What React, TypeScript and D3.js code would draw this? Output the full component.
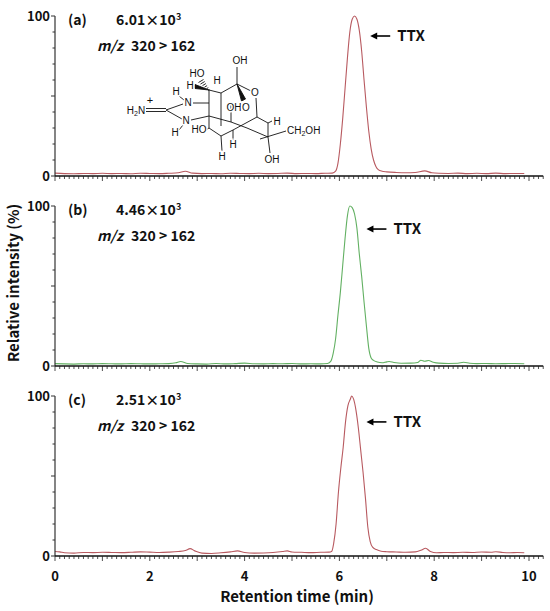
import React from 'react';
import * as d3 from 'd3';

// retention time (min), relative intensity (%)
const timesA = [0, 0.2, 0.4, 0.6, 0.8, 1.0, 1.2, 1.4, 1.6, 1.8, 2.0, 2.2, 2.4, 2.6, 2.75, 2.9, 3.1, 3.3, 3.5, 3.7, 3.9, 4.1, 4.3, 4.5, 4.7, 4.9, 5.1, 5.3, 5.5, 5.7, 5.85, 5.92, 5.97, 6.02, 6.07, 6.12, 6.17, 6.22, 6.27, 6.32, 6.37, 6.42, 6.47, 6.52, 6.57, 6.62, 6.67, 6.72, 6.77, 6.82, 6.9, 7.0, 7.2, 7.4, 7.6, 7.8, 7.95, 8.1, 8.3, 8.5, 8.7, 8.9, 9.1, 9.3, 9.5, 9.7, 9.9];
const valuesA = [1.8, 1.5, 1.4, 1.6, 1.5, 1.7, 1.5, 1.6, 1.4, 1.7, 1.6, 1.5, 1.7, 2.0, 3.0, 1.8, 1.5, 1.6, 1.4, 1.7, 1.6, 1.5, 1.7, 1.5, 1.6, 1.8, 1.5, 1.6, 1.5, 1.7, 1.8, 3, 8, 20, 36, 55, 74, 90, 98, 100, 98, 91, 78, 60, 43, 28, 17, 10, 6, 4, 3, 2.6, 2.2, 2.0, 2.2, 3.2, 2.0, 1.7, 1.6, 1.8, 1.5, 1.7, 1.5, 1.8, 1.5, 1.6, 1.6];

const timesB = [0, 0.2, 0.4, 0.6, 0.8, 1.0, 1.2, 1.4, 1.6, 1.8, 2.0, 2.2, 2.4, 2.55, 2.65, 2.8, 3.0, 3.2, 3.4, 3.6, 3.8, 4.0, 4.2, 4.4, 4.6, 4.8, 5.0, 5.2, 5.4, 5.6, 5.75, 5.82, 5.87, 5.92, 5.97, 6.02, 6.07, 6.12, 6.17, 6.22, 6.27, 6.32, 6.37, 6.42, 6.47, 6.52, 6.57, 6.62, 6.67, 6.72, 6.8, 6.9, 7.0, 7.05, 7.15, 7.3, 7.5, 7.65, 7.72, 7.8, 7.88, 7.98, 8.1, 8.3, 8.5, 8.62, 8.75, 8.9, 9.1, 9.3, 9.5, 9.7, 9.9];
const valuesB = [1.5, 1.3, 1.2, 1.4, 1.3, 1.5, 1.4, 1.3, 1.5, 1.4, 1.3, 1.4, 1.5, 2.0, 2.8, 1.6, 1.3, 1.2, 1.6, 1.3, 1.5, 1.8, 1.4, 1.3, 1.5, 1.4, 1.6, 1.3, 1.4, 1.3, 1.6, 3, 8, 17, 32, 46, 63, 80, 94, 100, 99, 95, 86, 70, 56, 40, 25, 11, 5, 3.5, 2.5, 2.0, 2.6, 2.8, 2.2, 1.7, 1.8, 2.2, 3.6, 3.0, 3.4, 2.4, 1.8, 1.6, 1.7, 2.3, 1.7, 1.5, 1.6, 1.4, 1.5, 1.6, 1.4];

const timesC = [0, 0.1, 0.2, 0.4, 0.6, 0.8, 1.0, 1.2, 1.4, 1.6, 1.8, 2.0, 2.2, 2.4, 2.6, 2.75, 2.85, 2.95, 3.1, 3.3, 3.5, 3.7, 3.85, 4.0, 4.2, 4.4, 4.6, 4.8, 4.9, 5.0, 5.2, 5.4, 5.6, 5.78, 5.84, 5.88, 5.93, 5.98, 6.03, 6.08, 6.13, 6.18, 6.23, 6.26, 6.3, 6.35, 6.4, 6.45, 6.5, 6.55, 6.6, 6.65, 6.7, 6.78, 6.88, 7.0, 7.2, 7.4, 7.6, 7.72, 7.82, 7.92, 8.05, 8.2, 8.4, 8.6, 8.8, 9.0, 9.2, 9.3, 9.45, 9.6, 9.75, 9.9];
const valuesC = [2.8, 2.6, 2.0, 1.8, 2.2, 2.1, 2.3, 2.2, 2.1, 2.3, 2.6, 2.4, 2.2, 2.4, 2.8, 3.4, 4.6, 3.2, 1.8, 1.6, 2.0, 2.6, 3.2, 2.2, 1.8, 1.9, 2.2, 2.8, 3.2, 2.5, 2.3, 2.1, 2.3, 2.4, 3, 8, 20, 40, 55, 68, 84, 94, 98, 100, 98, 91, 80, 66, 52, 36, 18, 9, 5.5, 4, 3, 2.7, 2.5, 2.3, 2.6, 3.6, 4.8, 2.8, 2.0, 2.2, 2.1, 2.3, 2.2, 2.5, 2.3, 2.7, 2.2, 2.0, 2.2, 2.0];

const panelLabels = ['(a)', '(b)', '(c)'];
const intensities = ['6.01', '4.46', '2.51'];
const lineColors = ['#b85a60', '#62b062', '#b85a60'];
const arrowTipTime = [6.65, 6.57, 6.57];
const arrowLevel = [87.5, 85.6, 83.8];
const xTickLabels = [0, 2, 4, 6, 8, 10];

const series = [
  { t: timesA, v: valuesA },
  { t: timesB, v: valuesB },
  { t: timesC, v: valuesC },
];

const W = 550;
const H = 611;
const panelTops = [16, 206, 396];
const panelH = 160;
const font = '"Noto Sans CJK JP", "Noto Sans", sans-serif';

const x = d3.scaleLinear().domain([0, 10]).range([55, 529]);

// Tetrodotoxin structure (illustration in panel a)
const TtxStructure = () => {
  const bonds: [number, number, number, number][] = [
    [146, 108.5, 166, 108.5], [146, 111.5, 166, 111.5],
    [166, 110, 183, 104], [166, 110, 182, 119],
    [179, 96, 184, 100], [179, 130, 183, 125],
    [193, 103, 209, 103], [191, 120, 209, 116],
    [209, 90, 209, 128], [209, 90, 221, 93],
    [221, 93, 237, 84], [237, 67, 237, 84], [237, 84, 251, 91],
    [256, 98, 257, 117], [221, 93, 221, 126],
    [209, 116, 231, 122], [231, 122, 247, 128],
    [209, 128, 221, 136], [221, 136, 222, 151], [206, 130, 209, 128],
    [221, 136, 233, 130], [233, 130, 233, 140],
    [233, 130, 257, 117], [257, 117, 268, 123], [268, 123, 272, 121],
    [268, 123, 268, 137], [260, 139, 286, 131], [268, 137, 270, 153],
    [247, 128, 268, 137], [231, 105, 231, 122],
  ];
  const hashes = d3.range(0, 6).map(i => i / 5);
  const labels: [string, number, number][] = [
    ['N', 188, 106], ['H', 176, 95], ['N', 186, 124], ['H', 175, 136],
    ['HO', 197, 77], ['H', 190, 89], ['H', 217, 84], ['OH', 240, 64],
    ['O', 255, 96], ['OH', 234, 111], ['O', 246, 111], ['HO', 199, 133],
    ['H', 222, 160], ['H', 233, 148], ['H', 277, 125], ['OH', 272, 163],
  ];
  return (
    <g stroke="#111" strokeWidth={0.9} fontFamily='"Liberation Sans", Arial, sans-serif' fontSize={10}>
      {bonds.map((b, i) => (
        <line key={i} x1={b[0]} y1={b[1]} x2={b[2]} y2={b[3]} />
      ))}
      {hashes.map((f, i) => {
        const cx = 209 + (201 - 209) * f;
        const cy = 90 + (81 - 90) * f;
        const hw = 0.5 + 2 * f;
        return <line key={'h' + i} x1={cx - hw} y1={cy + hw * 0.6} x2={cx + hw} y2={cy - hw * 0.6} />;
      })}
      <polygon points="209,90 195,84.5 195,88.5" fill="#111" />
      <polygon points="237,84 241.5,101 245.5,99" fill="#111" />
      <g fill="#111" textAnchor="middle">
        {labels.map((l, i) => (
          <text key={i} x={l[1]} y={l[2]} stroke="#fff" strokeWidth={3} paintOrder="stroke">{l[0]}</text>
        ))}
        <text x={136} y={114} stroke="none">H<tspan fontSize={7} dy={2}>2</tspan><tspan dy={-2}>N</tspan></text>
        <text x={150} y={104} fontSize={11} stroke="none">+</text>
        <text x={287} y={134} textAnchor="start" stroke="none">CH<tspan fontSize={7} dy={2}>2</tspan><tspan dy={-2}>OH</tspan></text>
      </g>
    </g>
  );
};

const Panel = ({ idx }: { idx: number }) => {
  const top = panelTops[idx];
  const y = d3.scaleLinear().domain([0, 100]).range([top + panelH, top]);
  const line = d3.line<number>()
    .x((_, i) => x(series[idx].t[i]))
    .y(d => y(d))
    .curve(d3.curveMonotoneX);
  const minor = d3.range(0, 104, 1).map(d => d / 10);
  const yTicks = d3.range(0, 101, 10);
  const ax = x(0);
  const base = y(0);
  const tipX = x(arrowTipTime[idx]);
  const tipY = y(arrowLevel[idx]);
  return (
    <g>
      <path d={line(series[idx].v) || ''} fill="none" stroke={lineColors[idx]} strokeWidth={1.1} />
      {/* y axis */}
      <line x1={ax} y1={base} x2={ax} y2={y(100)} stroke="#333" strokeWidth={1.2} />
      {yTicks.map(t => (
        <line key={t} x1={ax - (t % 50 === 0 ? 4 : 2.5)} x2={ax} y1={y(t)} y2={y(t)} stroke="#333" strokeWidth={1} />
      ))}
      <text x={50} y={y(100)} dy="0.36em" textAnchor="end" fontSize={13} fontWeight={700}>100</text>
      <text x={50} y={y(0)} dy="0.36em" textAnchor="end" fontSize={13} fontWeight={700}>0</text>
      {/* x axis */}
      <line x1={ax} y1={base} x2={x(10.3)} y2={base} stroke="#111" strokeWidth={1.5} />
      {minor.map(m => (
        <line key={m} x1={x(m)} x2={x(m)} y1={base} y2={base + (Math.round(m * 10) % 10 === 0 ? 5 : 3)} stroke="#222" strokeWidth={0.8} />
      ))}
      {idx === 2 && xTickLabels.map(t => (
        <text key={t} x={x(t)} y={base + 20} dy="0.36em" textAnchor="middle" fontSize={13} fontWeight={700}>{t}</text>
      ))}
      {/* header */}
      <text x={68} y={top + 9} fontSize={14} fontWeight={700}>{panelLabels[idx]}</text>
      <text x={116} y={top + 9} fontSize={14} fontWeight={700}>
        {intensities[idx]}×10<tspan fontSize={9} dy={-5}>3</tspan>
      </text>
      <text x={97} y={top + 35} fontSize={14} fontWeight={700}>
        <tspan fontStyle="italic">m/z</tspan>
        <tspan dx={8}>320 &gt; 162</tspan>
      </text>
      {/* TTX annotation */}
      <line x1={tipX + 5} y1={tipY} x2={tipX + 20} y2={tipY} stroke="#000" strokeWidth={1.6} />
      <polygon points={`${tipX},${tipY} ${tipX + 7},${tipY - 3.5} ${tipX + 7},${tipY + 3.5}`} fill="#000" />
      <text x={tipX + 27} y={tipY} dy="0.36em" fontSize={15} fontWeight={700}>TTX</text>
    </g>
  );
};

export default function App() {
  return (
    <svg width={W} height={H} viewBox={`0 0 ${W} ${H}`}
      style={{ position: 'absolute', left: 0, top: 0, background: '#fff' }}
      fontFamily={font} fill="#111">
      {[0, 1, 2].map(i => <Panel key={i} idx={i} />)}
      <TtxStructure />
      <text transform="translate(19,283) rotate(-90)" textAnchor="middle" fontSize={15} fontWeight={700}>
        Relative intensity (%)
      </text>
      <text x={297} y={597} dy="0.36em" textAnchor="middle" fontSize={15} fontWeight={700}>
        Retention time (min)
      </text>
    </svg>
  );
}
